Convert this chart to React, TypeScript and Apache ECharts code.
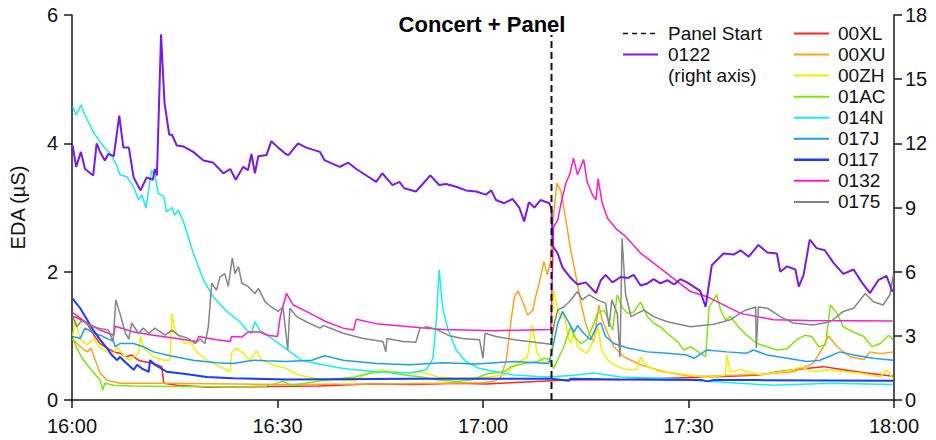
import React, { useEffect, useRef } from 'react';
import * as echarts from 'echarts';

// ---- data (minutes after 16:00, EDA in µS) ----
const tickLabels = ['16:00', '16:30', '17:00', '17:30', '18:00'];
const panelStartMinute = 70;
const panelStartTop = 5.69;

const d00XL: [number, number][] = [[0.1,1.3],[0.8,1.28],[2.2,1.19],[3.2,1.01],[4.1,0.88],[5.1,0.81],[6.1,0.75],[7.0,0.73],[7.8,0.67],[8.7,0.7],[9.7,0.62],[10.4,0.6],[11.9,0.57],[13.1,0.52],[13.4,0.26],[15.3,0.23],[20,0.2],[29,0.21],[36,0.22],[43.4,0.25],[50,0.24],[56.3,0.26],[60.5,0.25],[64,0.27],[69.9,0.3],[72,0.31],[80,0.32],[90.8,0.35],[96,0.37],[100.5,0.39],[103,0.44],[105.3,0.47],[109.7,0.52],[112.6,0.47],[116,0.42],[119.9,0.37]];

const d00XU: [number, number][] = [[0.1,0.95],[0.7,0.88],[1.5,0.81],[2.2,0.75],[2.8,0.81],[3.4,0.62],[4.1,0.42],[5.1,0.31],[7.0,0.26],[13.8,0.26],[30,0.24],[45,0.25],[60,0.27],[61.9,0.3],[62.6,0.36],[63.4,0.62],[64.1,1.25],[64.6,1.61],[65.1,1.7],[65.8,1.53],[66.5,1.32],[67.3,1.4],[67.5,1.53],[68.2,1.82],[68.9,2.16],[69.4,1.95],[69.9,2.18],[70.1,2.65],[70.5,3.09],[70.8,3.38],[71.4,3.25],[72.1,2.8],[72.8,2.34],[73.5,1.97],[74.3,1.51],[75.0,1.19],[75.7,0.99],[76.2,0.91],[76.9,1.48],[77.4,1.25],[78.2,1.04],[79.1,0.83],[80.6,0.67],[83.0,0.55],[86.4,0.44],[90.3,0.37],[92.7,0.37],[100.5,0.4],[105.3,0.44],[108.2,0.57],[109.7,0.83],[110.4,1.0],[111.7,0.83],[113.6,0.67],[115.6,0.63],[116.5,0.75],[118.0,0.72],[119.9,0.75]];

const d00ZH: [number, number][] = [[0.1,1.0],[0.5,1.25],[1.2,0.94],[2.2,0.86],[3.2,0.96],[3.9,0.83],[5.1,0.75],[6.1,0.73],[6.6,0.83],[7.5,0.7],[8.3,0.62],[9.0,0.67],[9.7,0.73],[10.0,0.99],[10.5,0.81],[11.9,0.67],[13.4,0.62],[14.3,0.62],[14.6,1.35],[15.0,1.09],[15.8,0.96],[16.5,0.88],[17.2,0.91],[18.2,0.75],[19.7,0.62],[21.6,0.52],[23.1,0.44],[23.3,0.73],[24.0,0.81],[25.0,0.73],[26.0,0.62],[26.9,0.77],[27.7,0.62],[29.4,0.55],[31.3,0.49],[33.0,0.39],[36.4,0.32],[41.3,0.3],[43.2,0.42],[45.1,0.47],[48.5,0.42],[51.0,0.44],[53.4,0.36],[56.3,0.34],[60.2,0.35],[63.1,0.39],[65.0,0.57],[66.5,0.67],[67.2,1.17],[67.9,0.73],[68.9,0.57],[69.9,0.62],[70.3,1.71],[70.8,1.45],[71.4,1.27],[71.8,1.35],[72.4,1.0],[72.8,0.88],[73.3,1.06],[73.8,0.83],[74.3,0.78],[75.2,0.73],[76.2,0.94],[76.8,1.14],[77.3,0.78],[78.2,0.62],[79.6,0.52],[81.1,0.47],[82.5,0.48],[83.0,0.67],[84.0,0.52],[85.9,0.44],[87.9,0.42],[92.7,0.35],[95.4,0.39],[95.6,0.7],[96.1,0.44],[97.6,0.47],[100.5,0.39],[105.3,0.47],[106.3,0.52],[108.2,0.44],[110.2,0.47],[113.1,0.44],[115.0,0.42],[118.0,0.36],[118.9,0.47],[119.9,0.33]];

const d01AC: [number, number][] = [[0.1,0.96],[0.7,0.81],[1.5,0.65],[2.2,0.55],[3.2,0.42],[4.1,0.31],[4.5,0.16],[4.8,0.26],[6.1,0.23],[9.0,0.22],[13.8,0.21],[18.9,0.21],[23.5,0.2],[28.4,0.22],[30.8,0.29],[32.0,0.23],[34.0,0.26],[36.4,0.3],[41.3,0.36],[43.7,0.42],[45.6,0.44],[48.5,0.39],[51.0,0.36],[53.4,0.31],[56.3,0.29],[58.2,0.31],[60.7,0.41],[63.1,0.44],[64.1,0.52],[66.0,0.57],[68.0,0.6],[68.9,0.65],[69.8,0.63],[70.3,0.49],[71.1,0.67],[71.8,0.83],[72.8,1.14],[73.3,0.99],[74.3,0.88],[75.2,0.94],[76.2,1.2],[76.7,1.35],[77.7,1.4],[78.9,1.09],[79.6,1.64],[80.3,1.45],[81.1,1.35],[82.0,1.37],[83.0,1.53],[84.0,1.3],[84.9,1.2],[85.9,1.14],[86.9,1.04],[88.4,0.91],[89.3,0.78],[90.3,0.83],[91.7,0.73],[92.5,0.67],[93.0,1.45],[93.5,1.53],[94.1,1.64],[94.7,1.4],[95.4,1.25],[96.1,1.3],[97.3,1.14],[98.5,1.01],[100.0,0.88],[101.5,0.83],[102.9,0.78],[104.4,0.8],[105.8,0.94],[107.0,1.01],[108.0,0.99],[109.0,0.83],[110.0,0.86],[110.7,1.48],[111.7,1.35],[112.6,1.14],[114.1,1.06],[115.6,0.99],[116.8,0.83],[118.0,0.88],[119.2,1.01],[119.9,0.94]];

const d014N: [number, number][] = [[0.1,4.58],[0.6,4.44],[1.3,4.6],[1.9,4.44],[3.2,4.16],[4.6,3.95],[5.6,3.84],[6.6,3.64],[7.0,3.51],[8.0,3.48],[9.0,3.32],[9.7,3.12],[10.2,3.2],[10.8,2.99],[11.6,3.58],[12.1,3.5],[12.6,3.22],[13.4,3.17],[13.8,2.93],[14.6,3.0],[15.0,2.88],[15.5,2.96],[16.2,2.8],[17.7,2.29],[19.2,1.87],[20.6,1.61],[22.6,1.38],[24.5,1.22],[25.5,1.09],[26.2,1.04],[26.7,1.22],[27.4,1.09],[29.4,0.94],[31.1,0.81],[33.5,0.62],[35.7,0.57],[39.6,0.49],[44.4,0.44],[49.3,0.42],[51.7,0.47],[52.7,0.65],[53.2,1.25],[53.6,2.03],[54.1,1.45],[54.9,1.09],[56.1,0.78],[57.5,0.6],[59.5,0.49],[61.9,0.44],[64.5,0.39],[69.4,0.36],[72.8,0.38],[76.2,0.42],[80.1,0.36],[85.9,0.34],[91.7,0.3],[102.4,0.23],[110.7,0.26],[119.8,0.24]];

const d017J: [number, number][] = [[0.1,0.99],[1.2,0.96],[1.9,1.12],[3.2,1.04],[4.1,1.01],[6.1,0.91],[6.3,0.83],[7.0,0.88],[9.0,0.88],[10.4,0.83],[11.9,0.75],[14.3,0.69],[17.7,0.62],[21.1,0.58],[23.5,0.57],[26.5,0.62],[28.4,0.61],[31.3,0.6],[35.0,0.62],[36.9,0.69],[39.6,0.62],[44.4,0.57],[49.3,0.55],[54.1,0.58],[59.0,0.56],[64.6,0.6],[69.6,0.57],[70.2,0.83],[70.9,1.19],[71.6,1.38],[72.3,1.25],[73.3,1.06],[73.8,1.16],[74.7,1.04],[75.7,0.94],[76.7,1.17],[77.2,1.2],[77.9,0.99],[79.1,0.88],[81.1,0.81],[84.0,0.75],[86.9,0.73],[89.8,0.7],[90.8,0.65],[92.7,0.78],[95.6,0.75],[98.5,0.73],[99.5,0.78],[101.5,0.7],[104.4,0.65],[107.3,0.6],[109.2,0.62],[112.1,0.75],[114.1,0.7],[117.0,0.65],[119.9,0.62]];

const d0117: [number, number][] = [[0.1,1.58],[1.2,1.43],[2.2,1.25],[3.1,1.09],[4.1,0.94],[5.1,0.81],[5.8,0.7],[6.6,0.62],[7.0,0.67],[8.0,0.57],[9.0,0.47],[9.5,0.55],[10.2,0.49],[11.2,0.44],[11.4,0.62],[12.1,0.55],[13.8,0.44],[16.3,0.41],[19.7,0.36],[23.5,0.34],[31.3,0.32],[50,0.33],[70,0.33],[72.5,0.3],[72.8,0.33],[80,0.32],[92,0.31],[92.8,0.29],[93.6,0.31],[100,0.31],[119.9,0.3]];

const d0132: [number, number][] = [[0.1,1.36],[2.2,1.2],[4.1,1.09],[6.1,1.01],[6.3,1.15],[9.0,1.06],[11.9,1.01],[15.3,0.96],[18.2,0.91],[18.5,0.99],[21.1,0.94],[23.1,0.91],[23.3,0.99],[24.8,0.98],[25.7,1.06],[27.4,1.06],[28.6,1.01],[30.0,0.99],[30.4,1.3],[31.3,1.66],[32.3,1.48],[34.2,1.38],[37.1,1.22],[39.6,1.12],[41.1,1.09],[41.5,1.26],[44.4,1.19],[49.3,1.14],[54.1,1.1],[61.9,1.08],[69.9,1.1],[70.3,2.7],[70.9,2.8],[71.4,3.07],[72.1,3.38],[72.7,3.53],[73.2,3.77],[73.8,3.51],[74.7,3.75],[75.2,3.4],[76.0,3.19],[76.5,3.12],[76.8,3.45],[77.4,3.07],[78.2,2.83],[79.6,2.65],[80.6,2.57],[83.0,2.29],[85.9,2.05],[90.3,1.69],[92.7,1.61],[97.6,1.35],[102.4,1.25],[107.3,1.24],[119.8,1.23]];

const d0175: [number, number][] = [[0.1,1.3],[0.7,1.14],[1.5,1.25],[2.4,1.17],[3.9,1.12],[5.3,1.09],[6.0,0.91],[6.4,1.56],[7.0,1.35],[7.8,1.04],[8.3,0.95],[8.7,1.2],[9.7,1.04],[10.4,1.12],[11.2,1.04],[12.1,1.12],[13.6,1.01],[14.6,1.09],[15.5,1.01],[17.0,0.96],[18.0,0.88],[18.7,0.95],[19.4,0.88],[19.9,1.14],[20.4,1.82],[21.1,1.71],[21.6,1.92],[22.3,1.97],[22.8,1.77],[23.4,2.21],[23.8,1.97],[24.3,2.08],[24.8,1.82],[25.7,1.77],[26.7,1.66],[27.2,1.74],[28.2,1.53],[29.1,1.45],[30.1,1.38],[30.8,1.45],[31.5,0.78],[31.8,1.43],[32.8,1.3],[34.2,1.22],[36.2,1.12],[36.7,1.16],[39.6,1.04],[42.5,0.96],[45.4,0.91],[45.8,0.75],[46.0,0.96],[48.3,0.91],[50.2,0.9],[50.8,1.12],[51.9,1.14],[53.2,1.1],[55.1,1.0],[57.0,0.96],[59.5,0.94],[60.0,0.65],[60.3,1.04],[61.9,0.99],[64.6,0.94],[69.9,0.87],[70.3,1.14],[70.9,1.4],[71.8,1.45],[72.6,1.53],[73.8,1.69],[74.5,1.56],[75.5,1.64],[76.7,1.56],[77.9,1.51],[78.4,1.14],[78.8,1.56],[79.6,1.35],[80.0,0.67],[80.3,2.52],[80.8,1.66],[81.6,1.3],[82.5,1.35],[83.5,1.4],[84.9,1.3],[86.9,1.22],[90.3,1.14],[93.7,1.18],[96.1,1.25],[98.3,1.4],[99.8,1.45],[99.9,0.81],[100.2,1.45],[101.5,1.43],[103.4,1.3],[105.3,1.2],[108.2,1.17],[110.7,1.22],[112.6,1.38],[114.1,1.43],[115.8,1.66],[117.0,1.53],[118.4,1.48],[119.4,1.64],[119.9,1.95]];

// 0122 is read on the right axis
const d0122: [number, number][] = [[0.1,11.9],[0.6,10.9],[1.3,11.6],[1.9,10.8],[3.1,10.5],[3.6,12.0],[4.1,11.6],[4.8,11.2],[5.3,11.5],[6.1,11.4],[6.9,13.3],[7.5,11.8],[8.3,11.8],[9.0,10.4],[10.0,9.8],[10.9,10.4],[11.8,10.3],[12.1,10.8],[12.4,10.5],[13.0,17.1],[13.5,13.9],[14.2,12.4],[14.6,12.4],[15.3,11.9],[16.3,11.85],[17.7,11.6],[19.2,11.2],[20.6,11.1],[22.1,10.6],[23.1,10.8],[23.9,10.3],[25.0,10.9],[25.7,10.75],[26.2,11.5],[26.7,10.6],[27.2,11.4],[28.4,11.45],[29.1,12.1],[30.1,11.8],[31.2,11.5],[31.6,11.45],[33.0,12.0],[34.2,11.8],[36.2,11.6],[36.9,11.2],[39.1,10.9],[40.3,11.1],[41.5,10.8],[43.2,10.45],[44.4,10.2],[45.3,10.6],[46.8,10.05],[47.8,10.2],[48.5,9.9],[50.2,9.75],[51.2,10.1],[52.3,10.5],[53.6,10.05],[54.6,10.1],[56.1,9.97],[57.5,9.8],[59.0,9.75],[60.4,9.6],[61.2,9.8],[61.9,9.35],[63.1,9.2],[64.3,9.4],[65.3,9.0],[66.0,8.35],[66.7,9.25],[67.5,9.0],[68.4,9.35],[69.7,9.2],[70.0,8.9],[70.2,7.2],[70.9,6.85],[71.6,6.2],[72.8,5.7],[73.8,5.4],[75.0,5.5],[76.5,5.0],[77.2,5.6],[77.9,5.85],[78.9,5.5],[80.1,5.75],[81.1,5.7],[82.0,5.85],[83.0,5.35],[84.0,5.45],[84.9,5.65],[85.9,5.45],[86.9,5.6],[87.9,5.4],[88.8,5.65],[89.8,5.5],[91.7,5.1],[92.5,4.35],[93.4,6.3],[95.1,6.85],[96.6,6.8],[97.6,7.0],[98.8,6.7],[100.2,7.25],[101.5,6.9],[102.9,6.85],[103.4,6.0],[104.4,6.25],[105.6,6.1],[106.1,5.3],[106.8,5.85],[107.7,7.5],[108.7,7.1],[109.9,7.0],[111.2,6.4],[112.6,5.9],[114.1,6.1],[115.3,5.5],[116.5,5.0],[117.7,5.6],[118.9,5.8],[119.8,5.05]];

const leftNames = ['00XL', '00XU', '00ZH', '01AC', '014N', '017J', '0117', '0132', '0175'];
const leftData = [d00XL, d00XU, d00ZH, d01AC, d014N, d017J, d0117, d0132, d0175];

// ---- styles ----
const colors: Record<string, string> = {
  '00XL': '#FF2424',
  '00XU': '#FFA21F',
  '00ZH': '#F2F000',
  '01AC': '#7EE80A',
  '014N': '#14F0F0',
  '017J': '#1E9EF2',
  '0117': '#1A3CFF',
  '0132': '#FF1ACB',
  '0175': '#858585',
  '0122': '#7A1AE6',
};
const FONT = "'Liberation Sans', Arial, sans-serif";
const AXIS_COLOR = '#1a1a1a';
const LEGEND_FONT = `19px ${FONT}`;

export default function App() {
  const ref = useRef<HTMLDivElement>(null);
  useEffect(() => {
    const chart = echarts.init(ref.current!, null, { renderer: 'svg' });

    const series: any[] = leftNames.map((name, i) => ({
      name,
      type: 'line',
      data: leftData[i],
      yAxisIndex: 0,
      showSymbol: false,
      symbol: 'none',
      lineStyle: { color: colors[name], width: name === '0117' ? 2 : 1.5 },
      itemStyle: { color: colors[name] },
      z: 2,
    }));
    series.push({
      name: '0122',
      type: 'line',
      data: d0122,
      yAxisIndex: 1,
      showSymbol: false,
      symbol: 'none',
      lineStyle: { color: colors['0122'], width: 2 },
      itemStyle: { color: colors['0122'] },
      z: 3,
    });
    series.push({
      name: 'Panel Start',
      type: 'line',
      data: [[panelStartMinute, 0], [panelStartMinute, panelStartTop]],
      yAxisIndex: 0,
      showSymbol: false,
      symbol: 'none',
      lineStyle: { color: '#111', width: 2, type: [7, 4] },
      z: 4,
    });

    const rowY = (i: number) => 33.5 + i * 21.05;
    const graphics: any[] = [];
    leftNames.forEach((name, i) => {
      graphics.push({
        type: 'line',
        shape: { x1: 794, y1: rowY(i), x2: 829, y2: rowY(i) },
        style: { stroke: colors[name], lineWidth: name === '0117' ? 2.5 : 2 },
      });
      graphics.push({
        type: 'text',
        x: 838,
        y: rowY(i),
        style: { text: name, font: LEGEND_FONT, fill: '#111', verticalAlign: 'middle', textAlign: 'left' },
      });
    });
    graphics.push({
      type: 'line',
      shape: { x1: 623, y1: rowY(0), x2: 658, y2: rowY(0) },
      style: { stroke: '#111', lineWidth: 1.5, lineDash: [5, 4] },
    });
    graphics.push({
      type: 'text', x: 668, y: rowY(0),
      style: { text: 'Panel Start', font: LEGEND_FONT, fill: '#111', verticalAlign: 'middle' },
    });
    graphics.push({
      type: 'line',
      shape: { x1: 623, y1: rowY(1), x2: 658, y2: rowY(1) },
      style: { stroke: colors['0122'], lineWidth: 2 },
    });
    graphics.push({
      type: 'text', x: 668, y: rowY(1),
      style: { text: '0122', font: LEGEND_FONT, fill: '#111', verticalAlign: 'middle' },
    });
    graphics.push({
      type: 'text', x: 668, y: rowY(2),
      style: { text: '(right axis)', font: LEGEND_FONT, fill: '#111', verticalAlign: 'middle' },
    });
    graphics.push({
      type: 'text', x: 482, y: 24,
      style: { text: 'Concert + Panel', font: `bold 22px ${FONT}`, fill: '#000', verticalAlign: 'middle', textAlign: 'center' },
    });

    chart.setOption({
      animation: false,
      backgroundColor: '#fff',
      textStyle: { fontFamily: FONT },
      grid: { left: 70, right: 42, top: 15, bottom: 40, containLabel: false },
      xAxis: {
        type: 'value',
        min: 0,
        max: 120,
        interval: 30,
        splitLine: { show: false },
        axisLine: { show: true, onZero: false, lineStyle: { color: AXIS_COLOR, width: 1.5 } },
        axisTick: { show: true, inside: false, length: 8, lineStyle: { color: AXIS_COLOR, width: 1.5 } },
        axisLabel: {
          color: '#111', fontSize: 20, margin: 16, fontFamily: FONT,
          formatter: (v: number) => tickLabels[Math.round(v / 30)] ?? '',
        },
      },
      yAxis: [
        {
          type: 'value',
          min: 0,
          max: 6,
          interval: 2,
          position: 'left',
          name: 'EDA (µS)',
          nameLocation: 'middle',
          nameGap: 44,
          nameTextStyle: { color: '#111', fontSize: 20, fontFamily: FONT },
          splitLine: { show: false },
          axisLine: { show: true, lineStyle: { color: AXIS_COLOR, width: 1.5 } },
          axisTick: { show: true, inside: false, length: 8, lineStyle: { color: AXIS_COLOR, width: 1.5 } },
          axisLabel: { color: '#111', fontSize: 20, margin: 14, fontFamily: FONT },
        },
        {
          type: 'value',
          min: 0,
          max: 18,
          interval: 3,
          position: 'right',
          splitLine: { show: false },
          axisLine: { show: true, lineStyle: { color: AXIS_COLOR, width: 1.5 } },
          axisTick: { show: true, inside: false, length: 8, lineStyle: { color: AXIS_COLOR, width: 1.5 } },
          axisLabel: { color: '#111', fontSize: 20, margin: 11, fontFamily: FONT },
        },
      ],
      series,
      graphic: graphics,
    });
    return () => chart.dispose();
  }, []);
  return <div ref={ref} style={{ position: 'fixed', left: 0, top: 0, width: 936, height: 440 }} />;
}
